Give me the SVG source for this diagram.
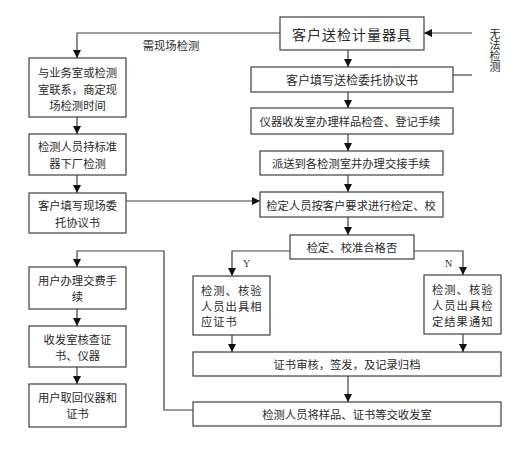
<svg xmlns="http://www.w3.org/2000/svg" width="530" height="460" viewBox="0 0 530 460">
<defs>
<style>
.box{fill:#fff;stroke:#404040;stroke-width:1.2}
.t{font-family:"Noto Sans CJK SC","Noto Sans",sans-serif;fill:#2a2a2a;dominant-baseline:central}
.c{text-anchor:middle}
.s11{font-size:11.3px}
.s12{font-size:12px}
.s14{font-size:14px;letter-spacing:1px}
.yn{font-family:"Liberation Serif",serif;font-size:10px;fill:#333;dominant-baseline:central}
.ln{fill:none;stroke:#404040;stroke-width:1.2}
.v{font-family:"Noto Sans CJK SC","Noto Sans",sans-serif;fill:#2a2a2a;font-size:11px;writing-mode:vertical-rl}
</style>
<marker id="ah" viewBox="0 0 10 10" refX="10" refY="5" markerWidth="8" markerHeight="8" markerUnits="userSpaceOnUse" orient="auto">
<path d="M0,0 L10,5 L0,10 Z" fill="#111"/>
</marker>
</defs>
<rect width="530" height="460" fill="#fff"/>

<g id="connectors">
<path class="ln" d="M280,33 H77 V58" marker-end="url(#ah)"/>
<path class="ln" d="M472,33 H424" marker-end="url(#ah)"/>
<path class="ln" d="M453,75 H472"/>
<path class="ln" d="M348,50 V67" marker-end="url(#ah)"/>
<path class="ln" d="M348,92 V108" marker-end="url(#ah)"/>
<path class="ln" d="M348,134 V151" marker-end="url(#ah)"/>
<path class="ln" d="M348,175 V192" marker-end="url(#ah)"/>
<path class="ln" d="M348,217 V235" marker-end="url(#ah)"/>
<path class="ln" d="M290,251 H232 V276" marker-end="url(#ah)"/>
<path class="ln" d="M414,251 H463 V275" marker-end="url(#ah)"/>
<path class="ln" d="M232,335 V352" marker-end="url(#ah)"/>
<path class="ln" d="M463,334 V352" marker-end="url(#ah)"/>
<path class="ln" d="M348,376 V402" marker-end="url(#ah)"/>
<path class="ln" d="M193,410 H164 V251 H77 V267" marker-end="url(#ah)"/>
<path class="ln" d="M77,117 V134" marker-end="url(#ah)"/>
<path class="ln" d="M77,175 V193" marker-end="url(#ah)"/>
<path class="ln" d="M126,201 H260" marker-end="url(#ah)"/>
<path class="ln" d="M77,309 V326" marker-end="url(#ah)"/>
<path class="ln" d="M77,367 V384" marker-end="url(#ah)"/>
<text class="t s11 c" x="171" y="45">需现场检测</text>
<text class="yn" x="243" y="263">Y</text>
<text class="yn" x="445" y="263">N</text>
<text class="v" x="495" y="28">无法检测</text>
</g>

<g id="n_top">
<rect class="box" x="280" y="17" width="144" height="33"/>
<text class="t s14 c" x="352" y="33.5">客户送检计量器具</text>
</g>
<g id="n_fill">
<rect class="box" x="251" y="67" width="202" height="25"/>
<text class="t s12 c" x="352" y="79.5">客户填写送检委托协议书</text>
</g>
<g id="n_recv">
<rect class="box" x="251" y="108" width="202" height="26"/>
<text class="t s11 c" x="350" y="121">仪器收发室办理样品检查、登记手续</text>
</g>
<g id="n_send">
<rect class="box" x="260" y="151" width="183" height="24"/>
<text class="t s11 c" x="351" y="163">派送到各检测室并办理交接手续</text>
</g>
<g id="n_verify">
<rect class="box" x="260" y="192" width="183" height="25"/>
<text class="t s11 c" x="351" y="204.5">检定人员按客户要求进行检定、校</text>
</g>
<g id="n_pass">
<rect class="box" x="290" y="235" width="124" height="24"/>
<text class="t s11 c" x="352" y="247">检定、校准合格否</text>
</g>
<g id="n_yes">
<rect class="box" x="193" y="276" width="77" height="59"/>
<text class="t s11" x="201" y="290" letter-spacing="1">检测、核验</text>
<text class="t s11" x="201" y="306" letter-spacing="1">人员出具相</text>
<text class="t s11" x="201" y="321" letter-spacing="1">应证书</text>
</g>
<g id="n_no">
<rect class="box" x="424" y="275" width="77" height="59"/>
<text class="t s11" x="432" y="289" letter-spacing="1">检测、核验</text>
<text class="t s11" x="432" y="305" letter-spacing="1">人员出具检</text>
<text class="t s11" x="432" y="321" letter-spacing="1">定结果通知</text>
</g>
<g id="n_cert">
<rect class="box" x="193" y="352" width="308" height="24"/>
<text class="t s11 c" x="347" y="364">证书审核，签发，及记录归档</text>
</g>
<g id="n_hand">
<rect class="box" x="193" y="402" width="308" height="24"/>
<text class="t s11 c" x="347" y="414">检测人员将样品、证书等交收发室</text>
</g>
<g id="n_l1">
<rect class="box" x="29" y="58" width="97" height="59"/>
<text class="t s11 c" x="77.5" y="72">与业务室或检测</text>
<text class="t s11 c" x="77.5" y="89">室联系，商定现</text>
<text class="t s11 c" x="77.5" y="105">场检测时间</text>
</g>
<g id="n_l2">
<rect class="box" x="29" y="134" width="97" height="41"/>
<text class="t s11 c" x="77.5" y="146">检测人员持标准</text>
<text class="t s11 c" x="77.5" y="163">器下厂检测</text>
</g>
<g id="n_l3">
<rect class="box" x="29" y="193" width="97" height="40"/>
<text class="t s11 c" x="77.5" y="205">客户填写现场委</text>
<text class="t s11 c" x="77.5" y="222">托协议书</text>
</g>
<g id="n_l4">
<rect class="box" x="29" y="267" width="97" height="42"/>
<text class="t s11 c" x="77.5" y="280">用户办理交费手</text>
<text class="t s11 c" x="77.5" y="296">续</text>
</g>
<g id="n_l5">
<rect class="box" x="29" y="326" width="97" height="41"/>
<text class="t s11 c" x="77.5" y="339">收发室核查证</text>
<text class="t s11 c" x="77.5" y="355">书、仪器</text>
</g>
<g id="n_l6">
<rect class="box" x="29" y="384" width="97" height="43"/>
<text class="t s11 c" x="77.5" y="397">用户取回仪器和</text>
<text class="t s11 c" x="77.5" y="413">证书</text>
</g>
</svg>
